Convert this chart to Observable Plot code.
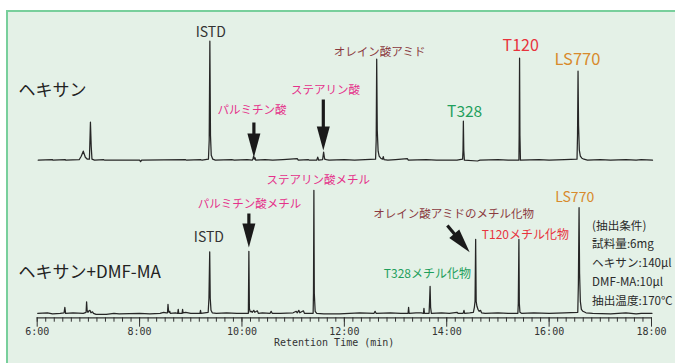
<!DOCTYPE html>
<html><head><meta charset="utf-8">
<script src="https://cdn.jsdelivr.net/npm/d3@7"></script>
<script src="https://cdn.jsdelivr.net/npm/@observablehq/plot@0.6"></script>
<style>
html,body{margin:0;padding:0;background:#fff;}
#wrap{position:relative;width:675px;height:363px;overflow:hidden;}
#panel{position:absolute;left:6px;top:10px;right:0;bottom:0;background:#e4f1e7;border-left:2px solid #78cf9c;border-top:2px solid #78cf9c;}
#chart{position:absolute;left:0;top:0;}
</style></head><body>
<div id="wrap"><div id="panel"></div><div id="chart"></div></div>
<script>
// ---- data: retention time (min), signal (arbitrary units above baseline)
const hexaneTrace = [
[6.02,0],[6.30,0.5],[6.31,0],[6.55,0.5],[6.56,0],[6.82,0.5],[6.86,4],[6.90,9],[6.94,3],[6.98,1],[7.02,1],[7.04,38],[7.055,14],[7.07,1],[7.12,0],[7.3,0.5],[7.32,0],[8.0,0],[8.02,-1.5],[8.04,0],[8.9,0.5],[8.92,0],[9.2,0.5],[9.22,0],[9.345,1],[9.36,20],[9.373,119],[9.385,25],[9.40,5],[9.43,1],[9.48,0],[9.8,0.5],[9.85,0],[10.1,0.5],[10.2,0],[10.215,1.5],[10.228,4],[10.24,1],[10.255,2.5],[10.27,0],[10.45,0.5],[10.6,0],[10.8,0.5],[11.08,1.5],[11.1,0],[11.3,0.5],[11.32,0],[11.46,0],[11.48,3],[11.50,0],[11.575,0.5],[11.595,8],[11.615,1],[11.65,0.5],[11.7,0],[12.0,0.5],[12.2,0],[12.61,1],[12.622,20],[12.632,101],[12.643,30],[12.66,9],[12.68,4],[12.71,2],[12.745,1],[12.76,3.5],[12.775,0.5],[12.85,0],[13.0,0.5],[13.23,1.5],[13.25,0],[13.6,0.5],[13.8,0],[14.2,0],[14.31,1],[14.318,10],[14.325,39],[14.333,10],[14.345,0],[14.6,-0.8],[14.65,0],[15.0,0.5],[15.2,0],[15.41,0],[15.415,25],[15.423,102],[15.43,25],[15.44,0],[15.8,0.5],[16.0,0],[16.3,0.5],[16.545,1],[16.555,25],[16.565,89],[16.575,35],[16.59,10],[16.61,4],[16.64,2],[16.68,1],[16.75,0],[17.0,0.5],[17.2,0],[17.5,0.5],[17.7,0],[17.8,0.5],[18.02,0]
];
const dmfmaTrace = [
[6.01,0],[6.2,0.5],[6.3,-0.5],[6.45,0],[6.525,0.5],[6.54,6],[6.555,0],[6.7,0.5],[6.9,0],[6.955,1],[6.965,11.5],[6.975,3],[6.99,1],[7.01,2.5],[7.03,3],[7.05,0.5],[7.08,1.5],[7.1,0],[7.15,-1],[7.35,-1],[7.5,0],[7.6,-0.5],[8.0,0],[8.2,-0.5],[8.4,0],[8.47,1],[8.52,0.5],[8.545,0.5],[8.555,9],[8.565,3],[8.575,1],[8.59,2],[8.6,0],[8.7,0.5],[8.745,0],[8.755,4],[8.765,0],[8.83,0],[8.84,4],[8.85,0.5],[8.9,1],[9.0,0],[9.18,0],[9.19,3],[9.2,0],[9.34,1],[9.355,15],[9.37,61.5],[9.38,15],[9.395,3],[9.42,0.5],[9.5,0],[9.7,0.5],[9.9,0],[10.125,0],[10.135,62],[10.145,5],[10.16,1.5],[10.18,2],[10.2,1],[10.23,3],[10.25,1],[10.3,2.5],[10.32,0],[10.4,0.5],[10.55,0],[10.57,2],[10.59,0],[10.75,0],[11.0,0.5],[11.06,2],[11.08,0.5],[11.11,3],[11.13,0.5],[11.2,2.5],[11.22,0],[11.39,0],[11.397,20],[11.405,123],[11.413,20],[11.43,2],[11.46,0],[11.6,-0.5],[11.9,-0.5],[12.1,0],[12.3,0.5],[12.58,0],[12.6,2],[12.62,0],[12.9,0.5],[13.1,0],[13.245,0],[13.255,6],[13.265,0],[13.4,0.5],[13.5,0.5],[13.545,0],[13.555,5],[13.565,0],[13.655,0],[13.665,12],[13.675,27],[13.685,6],[13.7,0],[13.9,0.5],[14.05,0],[14.2,1],[14.22,0],[14.32,0],[14.337,3],[14.35,0],[14.45,0.5],[14.52,1],[14.54,6],[14.553,12],[14.565,74],[14.575,12],[14.59,7],[14.61,4],[14.635,2],[14.66,3],[14.68,0.5],[14.75,0],[15.0,0.5],[15.2,0],[15.39,0],[15.398,10],[15.41,74],[15.418,10],[15.43,1],[15.46,0],[15.7,0.5],[16.0,0],[16.3,0.5],[16.56,1],[16.572,30],[16.585,105.6],[16.595,40],[16.61,12],[16.63,4],[16.66,2],[16.72,0.5],[16.85,0],[17.2,-0.5],[17.5,0.5],[17.7,-0.5],[17.8,0],[18.01,0]
];
const sampleNames = ["ヘキサン", "ヘキサン+DMF-MA"];
const majorTicks = [6, 8, 10, 12, 14, 16, 18];
const tickLabels = ["6:00", "8:00", "10:00", "12:00", "14:00", "16:00", "18:00"];
const xLabel = "Retention Time (min)";
const peakLabels = [
 {text:"ISTD", t:9.39, v:285.3, kind:"istd"},
 {text:"パルミチン酸", t:10.198, v:207.3, kind:"acid"},
 {text:"ステアリン酸", t:11.634, v:227.3, kind:"acid"},
 {text:"オレイン酸アミド", t:12.69, v:265.8, kind:"amide"},
 {text:"T328", t:14.35, v:205.8, kind:"t328"},
 {text:"T120", t:15.445, v:271.8, kind:"t120"},
 {text:"LS770", t:16.553, v:258.3, kind:"ls770"},
 {text:"ステアリン酸メチル", t:11.488, v:137.8, kind:"acid"},
 {text:"パルミチン酸メチル", t:10.149, v:113.3, kind:"acid"},
 {text:"ISTD", t:9.354, v:79.8, kind:"istd"},
 {text:"オレイン酸アミドのメチル化物", t:14.136, v:103.8, kind:"amide"},
 {text:"T120メチル化物", t:15.537, v:82.8, kind:"t120m"},
 {text:"T328メチル化物", t:13.622, v:43.6, kind:"t328m"},
 {text:"LS770", t:16.50, v:120.3, kind:"ls770m"}
];
const sampleLabels = [
 {text: sampleNames[0], t: 5.635, v: 227.3},
 {text: sampleNames[1], t: 5.635, v: 45.3}
];
const arrows = [
 {t1:10.233, v1:195.3, t2:10.233, v2:160.3},
 {t1:11.589, v1:218.3, t2:11.589, v2:167.3},
 {t1:10.135, v1:104.3, t2:10.135, v2:70.3},
 {t1:14.012, v1:92.3, t2:14.448, v2:65.6}
];
const conditionLines = ["(抽出条件)", "試料量:6mg", "ヘキサン:140μl", "DMF-MA:10μl", "抽出温度:170℃"];
const conditionPos = {t: 16.84, v: 56.6};

// ---- layout / style
const M = {left: 36.7, right: 24, top: 17.3, bottom: 45.7};
const W = 675, H = 363;
const baseline = {[sampleNames[0]]: 157.6, [sampleNames[1]]: 4.5};
const styles = {
 istd:  {fill:"#333333", size:14},
 acid:  {fill:"#e5318b", size:11.5},
 amide: {fill:"#8b3a40", size:11.5},
 t328:  {fill:"#1f9f5c", size:15.5},
 t120:  {fill:"#e8333d", size:16},
 ls770: {fill:"#d88a2c", size:16.5},
 t328m: {fill:"#1f9f5c", size:12},
 t120m: {fill:"#e8333d", size:12},
 ls770m:{fill:"#d88a2c", size:14}
};
const JP = "'Noto Sans CJK JP', 'Noto Sans', sans-serif";
const MONO = "'DejaVu Sans Mono', monospace";

const traceRows = [
 ...hexaneTrace.map(([t, v]) => ({sample: sampleNames[0], t, y: v + baseline[sampleNames[0]]})),
 ...dmfmaTrace.map(([t, v]) => ({sample: sampleNames[1], t, y: v + baseline[sampleNames[1]]}))
];

const pxPerMin = (W - M.left - M.right) / 12;
const arrowRows = arrows.map(a => {
  const sx = (a.t2 - a.t1) * pxPerMin, sy = -(a.v2 - a.v1);
  const len = Math.hypot(sx, sy), k = (len - 12) / len;
  return {...a, t3: a.t1 + (a.t2 - a.t1) * k, v3: a.v1 + (a.v2 - a.v1) * k,
          angle: Math.atan2(-sx, sy) * 180 / Math.PI};
});
const arrowHead = {draw(ctx) { ctx.moveTo(0, 0); ctx.lineTo(-6.5, -24); ctx.lineTo(6.5, -24); ctx.closePath(); }};

const minorTicks = d3.range(0, 73).map(i => 6 + i / 6);

const labelMarks = Object.keys(styles).map(kind =>
  Plot.text(peakLabels.filter(d => d.kind === kind), {
    x: "t", y: "v", text: "text", fill: styles[kind].fill, fontSize: styles[kind].size,
    fontFamily: JP, textAnchor: "middle", lineAnchor: "middle"
  }));

const chart = Plot.plot({
  width: W, height: H,
  marginLeft: M.left, marginRight: M.right, marginTop: M.top, marginBottom: M.bottom,
  x: {domain: [6, 18], label: null},
  y: {domain: [0, 300], axis: null},
  style: {background: "transparent", overflow: "visible", fontFamily: JP},
  marks: [
    Plot.ruleY([0], {stroke: "#333", strokeWidth: 1.2}),
    Plot.axisX(minorTicks, {anchor: "bottom", tickSize: 4.4, tickFormat: () => "", stroke: "#333", label: null}),
    Plot.axisX(majorTicks, {anchor: "bottom", tickSize: 9.4, tickPadding: 1, stroke: "#333",
      tickFormat: d => tickLabels[majorTicks.indexOf(d)], fontSize: 10, fontFamily: MONO, fill: "#333", label: null}),
    Plot.text([xLabel], {x: 11.8, frameAnchor: "bottom", dy: 28.5, text: d => d, fontSize: 10, fontFamily: MONO, fill: "#333"}),
    Plot.line(traceRows, {x: "t", y: "y", z: "sample", stroke: "#262626", strokeWidth: 1.25, strokeLinejoin: "round"}),
    Plot.link(arrowRows, {x1: "t1", y1: "v1", x2: "t3", y2: "v3", stroke: "#1a1a1a", strokeWidth: 3.2}),
    Plot.dot(arrowRows, {x: "t2", y: "v2", symbol: arrowHead, r: 5, fill: "#1a1a1a", stroke: "none", rotate: "angle"}),
    ...labelMarks,
    Plot.text(sampleLabels, {x: "t", y: "v", text: "text", textAnchor: "start", fontSize: 17, fontFamily: JP, fill: "#222"}),
    Plot.text([conditionLines.join("\n")], {x: conditionPos.t, y: conditionPos.v, text: d => d, textAnchor: "start",
      lineAnchor: "middle", lineHeight: 1.62, fontSize: 11.6, fontFamily: JP, fill: "#2a2a2a"})
  ]
});
document.getElementById("chart").appendChild(chart);
</script>
</body></html>
